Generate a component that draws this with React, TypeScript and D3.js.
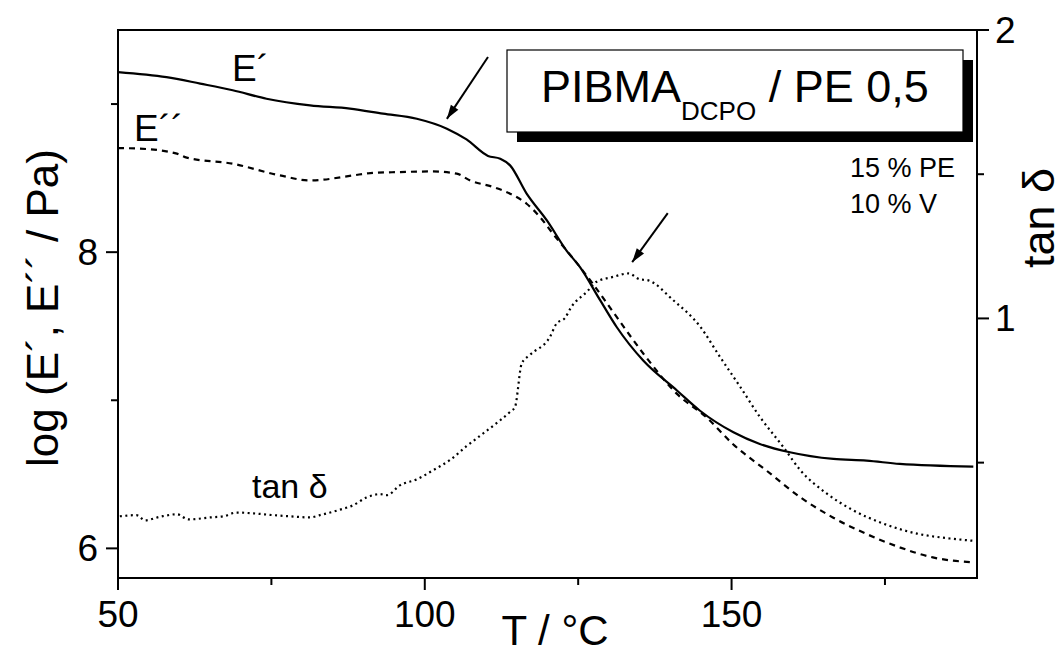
import React from "react";
import * as d3 from "d3";

// E' (log Pa) : [T, value]
const ePrimeT = [50.0, 57.9, 63.4, 68.7, 74.2, 81.3, 87.8, 93.2, 98.7, 103.6, 106.8, 110.3, 112.3, 113.9, 116.6, 119.9, 123.1, 125.3, 128.6, 131.3, 135.6, 141.1, 144.8, 150.3, 154.6, 159.5, 166.6, 172.0, 177.4, 189.4];
const ePrimeV = [9.216, 9.182, 9.138, 9.093, 9.036, 8.991, 8.969, 8.935, 8.901, 8.834, 8.761, 8.650, 8.631, 8.586, 8.395, 8.214, 8.011, 7.899, 7.674, 7.493, 7.268, 7.066, 6.931, 6.784, 6.705, 6.649, 6.604, 6.593, 6.570, 6.552];

// E'' (log Pa)
const eDoubleT = [50.0, 53.6, 59.6, 61.2, 68.7, 76.4, 81.3, 88.3, 91.1, 96.0, 101.3, 105.2, 107.4, 111.2, 113.9, 116.6, 118.8, 120.9, 125.3, 127.4, 131.3, 135.6, 141.1, 145.9, 150.2, 155.7, 161.2, 166.5, 172.0, 177.4, 182.8, 189.4];
const eDoubleV = [8.703, 8.699, 8.665, 8.638, 8.597, 8.518, 8.484, 8.518, 8.534, 8.541, 8.545, 8.530, 8.484, 8.439, 8.395, 8.327, 8.236, 8.124, 7.899, 7.786, 7.561, 7.316, 7.043, 6.885, 6.705, 6.525, 6.345, 6.209, 6.097, 6.007, 5.939, 5.905];

// tan delta
const tanT = [50.3, 53.0, 54.4, 56.8, 59.6, 61.5, 65.0, 67.2, 69.3, 72.1, 75.3, 78.0, 81.3, 82.9, 86.2, 88.3, 90.5, 92.7, 93.8, 96.0, 98.7, 101.4, 104.1, 106.8, 109.5, 112.3, 113.9, 114.7, 115.8, 117.1, 120.4, 121.5, 122.8, 123.9, 126.4, 128.0, 130.7, 133.2, 135.1, 136.2, 140.5, 144.9, 148.1, 151.4, 154.6, 158.4, 161.2, 165.5, 169.8, 174.7, 180.2, 185.6, 189.4];
const tanV = [0.314, 0.318, 0.300, 0.312, 0.321, 0.303, 0.310, 0.314, 0.327, 0.324, 0.318, 0.314, 0.310, 0.318, 0.337, 0.352, 0.379, 0.391, 0.387, 0.422, 0.442, 0.474, 0.509, 0.557, 0.601, 0.647, 0.676, 0.693, 0.844, 0.873, 0.936, 0.983, 1.000, 1.040, 1.092, 1.127, 1.144, 1.156, 1.135, 1.133, 1.063, 0.971, 0.867, 0.763, 0.659, 0.555, 0.474, 0.393, 0.335, 0.289, 0.254, 0.237, 0.229];

const xMajor = [50, 100, 150];
const xMinor = [75, 125, 175];
const yLeftMajor = [6, 8];
const yLeftMinor = [7, 9];
const yRightMajor = [1, 2];
const yRightMinor = [0.5, 1.5];

const W = 1064;
const H = 656;
const L = 118, R = 977, T = 30, B = 578;
const FONT = "'Liberation Sans', Arial, Helvetica, sans-serif";

export default function App() {
  const x = d3.scaleLinear().domain([50, 190]).range([L, R]);
  const yL = d3.scaleLinear().domain([5.8, 9.5]).range([B, T]);
  const yR = d3.scaleLinear().domain([0.1, 2]).range([B, T]);

  const lineL = d3.line<[number, number]>().x(d => x(d[0])).y(d => yL(d[1])).curve(d3.curveMonotoneX);
  const lineR = d3.line<[number, number]>().x(d => x(d[0])).y(d => yR(d[1])).curve(d3.curveMonotoneX);

  const ep = ePrimeT.map((t, i) => [t, ePrimeV[i]] as [number, number]);
  const edd = eDoubleT.map((t, i) => [t, eDoubleV[i]] as [number, number]);
  const td = tanT.map((t, i) => [t, tanV[i]] as [number, number]);

  // arrow annotations in data coordinates
  const arrow1 = { x1: x(110.3), y1: yL(9.318), x2: x(103.6), y2: yL(8.90) };
  const arrow2 = { x1: x(139.6), y1: yR(1.365), x2: x(133.8), y2: yR(1.195) };

  const arrowHead = (a: { x1: number; y1: number; x2: number; y2: number }) => {
    const ang = Math.atan2(a.y2 - a.y1, a.x2 - a.x1);
    const len = 14, wid = 4.5;
    const bx = a.x2 - len * Math.cos(ang), by = a.y2 - len * Math.sin(ang);
    const px = -Math.sin(ang) * wid, py = Math.cos(ang) * wid;
    return `M${a.x2},${a.y2}L${bx + px},${by + py}L${bx - px},${by - py}Z`;
  };

  const sw = 2;
  return (
    <svg width={W} height={H} style={{ position: "absolute", left: 0, top: 0, background: "#fff" }} fontFamily={FONT}>
      <rect x={0} y={0} width={W} height={H} fill="#fff" />
      {/* curves */}
      <path d={lineL(ep) || ""} fill="none" stroke="#000" strokeWidth={2.2} />
      <path d={lineL(edd) || ""} fill="none" stroke="#000" strokeWidth={2.2} strokeDasharray="6,5" />
      <path d={lineR(td) || ""} fill="none" stroke="#000" strokeWidth={2.2} strokeDasharray="2,3.5" />

      {/* frame */}
      <line x1={L} x2={R} y1={T} y2={T} stroke="#000" strokeWidth={sw} />
      <line x1={L} x2={R} y1={B} y2={B} stroke="#000" strokeWidth={sw} />
      <line x1={L} x2={L} y1={T - 1} y2={B + 1} stroke="#000" strokeWidth={sw} />
      <line x1={R} x2={R} y1={T - 1} y2={B + 1} stroke="#000" strokeWidth={sw} />

      {/* bottom ticks */}
      {xMajor.map(v => <line key={"xM" + v} x1={x(v)} x2={x(v)} y1={B} y2={B + 12} stroke="#000" strokeWidth={sw} />)}
      {xMinor.map(v => <line key={"xm" + v} x1={x(v)} x2={x(v)} y1={B} y2={B + 7} stroke="#000" strokeWidth={sw} />)}
      {xMajor.map(v => (
        <text key={"xl" + v} x={x(v)} y={627} fontSize={37} textAnchor="middle">{v}</text>
      ))}

      {/* left ticks */}
      {yLeftMajor.map(v => <line key={"lM" + v} x1={L - 12} x2={L} y1={yL(v)} y2={yL(v)} stroke="#000" strokeWidth={sw} />)}
      {yLeftMinor.map(v => <line key={"lm" + v} x1={L - 7} x2={L} y1={yL(v)} y2={yL(v)} stroke="#000" strokeWidth={sw} />)}
      {yLeftMajor.map(v => (
        <text key={"ll" + v} x={98} y={yL(v) + 13} fontSize={37} textAnchor="end">{v}</text>
      ))}

      {/* right ticks */}
      {yRightMajor.map(v => <line key={"rM" + v} x1={R} x2={R + 12} y1={yR(v)} y2={yR(v)} stroke="#000" strokeWidth={sw} />)}
      {yRightMinor.map(v => <line key={"rm" + v} x1={R} x2={R + 7} y1={yR(v)} y2={yR(v)} stroke="#000" strokeWidth={sw} />)}
      {yRightMajor.map(v => (
        <text key={"rl" + v} x={995} y={yR(v) + 13} fontSize={37} textAnchor="start">{v}</text>
      ))}

      {/* axis titles */}
      <text x={555} y={645} fontSize={42} textAnchor="middle">T / °C</text>
      <text transform="translate(58,308) rotate(-90)" fontSize={44} textAnchor="middle">log (E´, E´´ / Pa)</text>
      <text transform="translate(1054,218) rotate(-90)" fontSize={45} textAnchor="middle">tan δ</text>

      {/* curve labels */}
      <text x={232} y={81} fontSize={37}>E´</text>
      <text x={134} y={141} fontSize={37}>E´´</text>
      <text x={252} y={498} fontSize={34}>tan δ</text>

      {/* arrows */}
      <line x1={arrow1.x1} y1={arrow1.y1} x2={arrow1.x2} y2={arrow1.y2} stroke="#000" strokeWidth={2} />
      <path d={arrowHead(arrow1)} fill="#000" />
      <line x1={arrow2.x1} y1={arrow2.y1} x2={arrow2.x2} y2={arrow2.y2} stroke="#000" strokeWidth={2} />
      <path d={arrowHead(arrow2)} fill="#000" />

      {/* title box with shadow */}
      <rect x={517} y={60} width={456} height={82} fill="#000" />
      <rect x={507} y={50} width={456} height={82} fill="#fff" stroke="#000" strokeWidth={1.2} />
      <text x={541} y={102} fontSize={45}>
        PIBMA<tspan fontSize={26} dy={18}>DCPO</tspan><tspan dy={-18} fontSize={45}> / PE 0,5</tspan>
      </text>

      <text x={850} y={177} fontSize={27}>15 % PE</text>
      <text x={850} y={213} fontSize={27}>10 % V</text>
    </svg>
  );
}
